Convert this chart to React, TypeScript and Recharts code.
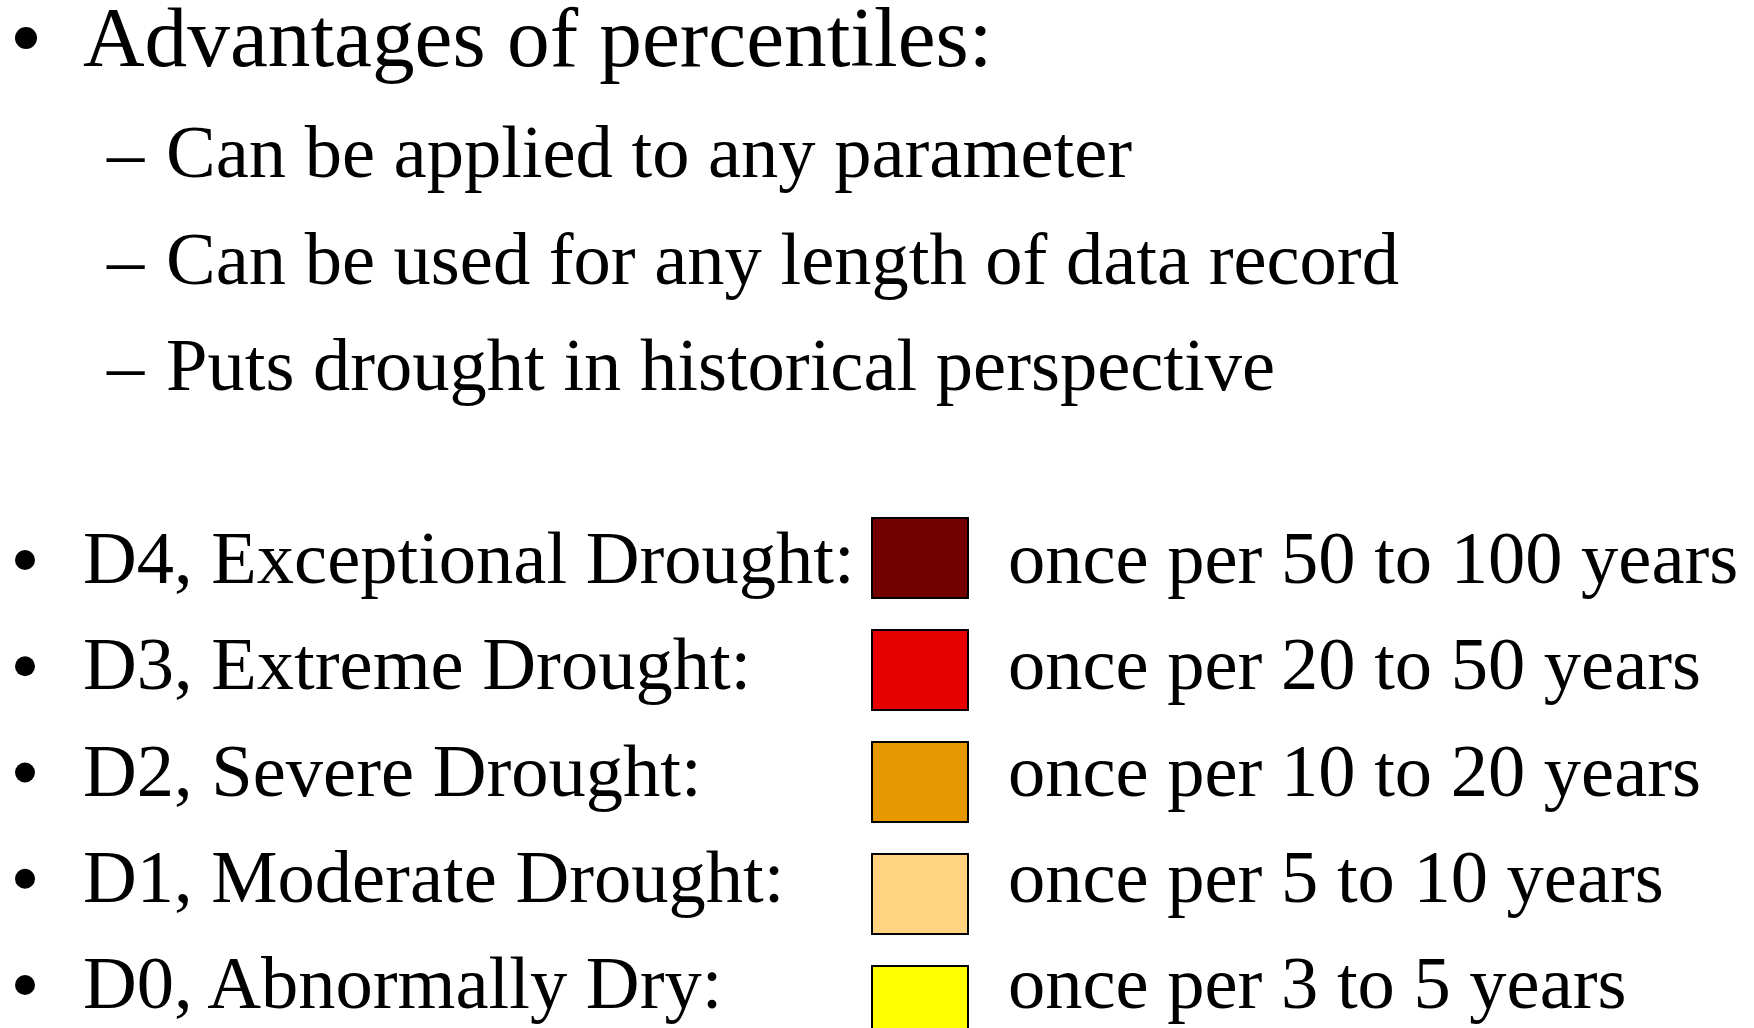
import { BarChart, Bar, XAxis, YAxis, Cell } from "recharts";

// slide content
const advantages = [
  "Can be applied to any parameter",
  "Can be used for any length of data record",
  "Puts drought in historical perspective",
];

const droughtCodes = ["D4", "D3", "D2", "D1", "D0"];
const droughtNames = [
  "Exceptional Drought",
  "Extreme Drought",
  "Severe Drought",
  "Moderate Drought",
  "Abnormally Dry",
];
const returnPeriods = [
  "once per 50 to 100 years",
  "once per 20 to 50 years",
  "once per 10 to 20 years",
  "once per 5 to 10 years",
  "once per 3 to 5 years",
];
const swatchColors = ["#730000", "#E60000", "#E69800", "#FFD37F", "#FFFF00"];
const swatchValues = [1, 1, 1, 1, 1];

const FONT = "'Liberation Serif', 'Times New Roman', serif";

export default function App() {
  const data = droughtCodes.map((code, i) => ({
    code,
    swatch: swatchValues[i],
  }));

  return (
    <div
      style={{
        position: "absolute",
        left: 0,
        top: 0,
        width: 1754,
        height: 1028,
        overflow: "hidden",
        background: "#fff",
      }}
    >
      <BarChart
        width={1754}
        height={1080}
        data={data}
        layout="vertical"
        margin={{ top: 502, bottom: 18, left: 872, right: 786 }}
        style={{ position: "absolute", left: 0, top: 0 }}
      >
        <XAxis type="number" domain={[0, 1]} hide />
        <YAxis type="category" dataKey="code" hide />
        <Bar
          dataKey="swatch"
          barSize={80}
          stroke="#000"
          strokeWidth={2}
          isAnimationActive={false}
        >
          {data.map((d, i) => (
            <Cell key={d.code} fill={swatchColors[i]} />
          ))}
        </Bar>
      </BarChart>

      <svg
        width={1754}
        height={1028}
        style={{ position: "absolute", left: 0, top: 0, pointerEvents: "none" }}
        fontFamily={FONT}
        fill="#000"
      >
        {/* bullets */}
        <circle cx={26} cy={38} r={11} fill="#000" />
        <text x={83} y={66} fontSize={85.3}>Advantages of percentiles:</text>

        {advantages.map((t, i) => (
          <g key={t}>
            <text x={107} y={177 + i * 106.5} fontSize={74.5}>–</text>
            <text x={166} y={177 + i * 106.5} fontSize={74.5}>{t}</text>
          </g>
        ))}

        {droughtCodes.map((code, i) => (
          <g key={code}>
            <circle cx={25} cy={560 + i * 106.25} r={10} fill="#000" />
            <text x={83} y={583 + i * 106.25} fontSize={74.5}>
              {code}, {droughtNames[i]}:
            </text>
            <text x={1008} y={583 + i * 106.25} fontSize={74.5}>
              {returnPeriods[i]}
            </text>
          </g>
        ))}
      </svg>
    </div>
  );
}
